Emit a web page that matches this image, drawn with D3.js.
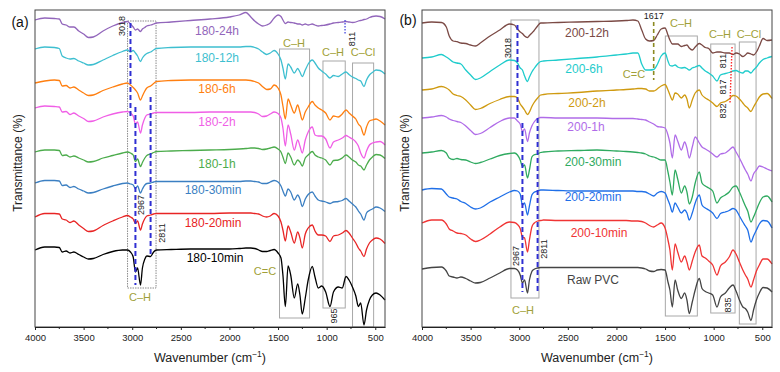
<!DOCTYPE html>
<html>
<head>
<meta charset="utf-8">
<script src="https://cdn.jsdelivr.net/npm/d3@7"></script>
<style>
body { margin: 0; background: #fff; }
svg { display: block; font-family: "Liberation Sans", Arial, sans-serif; }
</style>
</head>
<body>
<svg id="chart" width="780" height="372"></svg>
<script>
// shared wavenumber grid (cm-1)
const wavenumbers = [4000,3900,3800,3750,3720,3680,3640,3600,3550,3500,
  3450,3400,3300,3200,3100,3050,3018,2990,2967,2945,
  2915,2895,2870,2850,2811,2780,2750,2600,2400,2200,
  2000,1900,1830,1780,1740,1700,1660,1617,1580,1540,
  1500,1470,1450,1425,1397,1370,1333,1298,1275,1251,
  1220,1190,1148,1120,1086,1051,1010,966,930,880,
  840,801,770,735,700,674,650,616,590,560,
  530,492,451,400];
const tickValues = [4000,3500,3000,2500,2000,1500,1000,500];
const minorTicks = [3750,3250,2750,2250,1750,1250,750];

// panel (a): 180 °C series, transmittance relative to each trace start
const namesA = ['180-24h','180-12h','180-6h','180-2h','180-1h','180-30min','180-20min','180-10min'];
const colorsA = ['#9266bb','#3ebfd0','#ff7f10','#f05ee6','#4cac4c','#3b7fc2','#e82424','#000000'];
const offsetsA = [307,278,244,219,175,144,110,77];
const t180_24h = [0,2,1.5,1,-4,-5,-7,-7,-11,-14, -17.5,-17,-11,-6,-2.5,-1.5,-4,-7,-10,-9,
  -11.5,-9,-7.5,-6,-5,-4,-3,-2,-0.5,1, 3,5,7.5,3,-1,-4,-6,-5,-3,2,
  5,3.5,0,-3.5,-2,-2.5,-3,-4,-4,-5, -4,-5,-4,-5,-6,-5.5,-5,-4,-3,-2.5,
  -2,-1.5,-2,-2.5,-2,-1,-0.5,0.5,1,2.5, 3.5,4,3.5,1];
const t180_12h = [0,2,1.5,0.5,-7,-9,-10,-9.5,-12,-14, -16,-15.5,-11,-6.5,-2.5,-1,-3,-1.5,-4,-7,
  -12.5,-9,-6,-4.5,-3,-1,0.5,1.5,2,2, 2,2,2.5,2.5,1.5,0,-3,-5.5,-4,-1.5,
  -5,-11,-19,-30,-15,-18,-24,-19.5,-23,-27.5, -21,-15,-11,-14,-19,-22,-25,-29,-26.5,-27.5,
  -25,-23,-25.5,-28,-29.5,-31,-32,-37.5,-31,-26, -23.5,-21,-21.5,-25];
const t180_6h = [0,2,3,2.5,-3,-2.5,-5,-4,-7,-10, -12.5,-12,-7.5,-4,-1,0,-2,-4.5,-7,-10,
  -17,-13,-8,-5,-3,-0.5,1.5,2.5,3,3, 3,3,3,2.5,1.5,0,-3.5,-6.5,-6,-2,
  -5,-12,-23,-36,-16,-22,-30,-22,-29,-37, -29,-24,-18.5,-22,-25,-27,-30,-37,-33,-34,
  -31,-27,-30,-33,-36,-41,-43.5,-52,-44,-38, -37,-36,-38,-42];
const t180_2h = [0,2,1.5,1,-4,-3.5,-6.5,-5,-8,-10.5, -13.5,-13,-9,-6,-4,-3.5,-5,-8,-16,-14,
  -25,-17,-10,-7,-6,-5,-4.5,-4.5,-4.5,-4, -4,-4,-4,-4,-4.5,-6,-8.5,-8,-6,-4,
  -5.5,-10,-20,-38,-17,-26,-42,-32,-38,-45, -32,-24,-19,-27,-28,-28,-31,-40,-34,-32,
  -30,-27.5,-29,-31,-34,-38,-45,-50,-43,-37, -35,-34,-33.5,-37];
const t180_1h = [0,2,2,1.5,-3.5,-3,-5,-4,-6,-8, -10,-9.5,-6,-3.5,-1,0,-1,-3,-9.5,-7,
  -14.5,-10.5,-6,-3.5,-2,-0.5,0.5,1,1.5,2, 2.5,3,3.5,4,4,3.5,2.5,3,4,5,
  3,0,-5,-11.5,-1,-5,-13,-8,-10,-14, -6,-3,0.5,-3,-5,-6,-8,-13,-8.5,-8,
  -6,-3,-5,-8,-10,-13,-14,-18,-13,-8, -5,-2.5,-3,-6.5];
const t180_30min = [0,2.5,2.5,2,-2.5,-2,-4.5,-3.5,-6,-8, -10,-9.5,-6,-3,-0.5,0,-1,-2,-5.5,-3,
  -10,-6,-2,-0.5,0,1,1.5,1.5,1.5,1.5, 1.5,1.5,2,2,1.5,1,-0.5,-0.5,1,2.5,
  1,-3,-8,-13,-6,-9,-17,-12,-16,-23.5, -16,-11.5,-9,-13,-17,-18,-19,-20.5,-19,-18.5,
  -17.5,-15.5,-18,-21,-24,-28,-31,-37,-30,-27.5, -26,-24,-25,-28.5];
const t180_20min = [0,3.5,3.5,3,-2,-3,-5.5,-4,-8,-11.5, -14.5,-14,-8.5,-4,0,1.5,0,-2,-6.5,-4,
  -13,-7,-1.5,1,2,3,3.5,3.5,3.5,3.5, 4,4,4,4,3.5,3,1,0,1,3.5,
  1,-5,-13,-24,-9,-15,-26,-15,-21,-31, -17,-11,-8,-14,-18,-18,-19,-24.5,-19,-18,
  -16,-13.5,-16,-21,-26,-31,-34,-39.5,-32,-26, -23,-21,-22,-26.5];
const t180_10min = [0,3,3,2.5,-2,-1,-3,-2,-4.5,-7, -9,-8.5,-4.5,-1.5,0,0,-2,-7,-22,-18,
  -35,-18,-9,-6,-6.5,-2,0,0.5,1,1, 1,1.5,2,2,1.5,0,-1.5,-1.5,-0.5,0.5,
  -3,-8,-25,-56.5,-16,-25,-48,-34,-45,-64, -48,-30,-16.5,-27,-38,-36,-42,-56.5,-42,-37,
  -38,-26.5,-30,-37,-46,-56.5,-53,-75,-60,-50, -45,-43,-45,-50];

// panel (b): 200 °C series and raw PVC
const namesB = ['200-12h','200-6h','200-2h','200-1h','200-30min','200-20min','200-10min','Raw PVC'];
const colorsB = ['#7b4a45','#1fcccc','#cf9a10','#b06ce8','#2faa60','#1f6fe8','#f03434','#444444'];
const offsetsB = [304,269,237,209,174,137,104,58];
const t200_12h = [0,1,0.5,-4,-13,-18,-18.7,-20,-20.5,-22, -23,-20,-13,-7,-1,-2,-6,-9,-10.5,-13,
  -14.5,-12.5,-10,-8,-3,0,0,0.5,1,1.5, 2,2.5,3,2,-7,-16,-18,-17.5,-12,-6,
  -5,-12,-17,-21,-21,-21,-23.5,-22.5,-22,-25, -27,-24,-20.5,-22,-24.5,-25.5,-30,-29,-29,-30,
  -30,-31.5,-30,-31,-33.5,-32,-30,-31,-32,-29, -23,-15.5,-17.5,-17];
const t200_6h = [0,1,3.5,1,-1,-4,-5,-6,-12,-17, -21.5,-20,-13.5,-7,-2,-2.5,-5,-10,-12,-18,
  -23.5,-19,-14,-11,-6,-3.5,-3,-2,-0.5,1, 3,4,5,5,-6,-12,-12,-11.5,-6.5,2,
  5,-3,-7.5,-8,-7,-9,-10,-9.5,-10.5,-12, -10,-9,-7.5,-10,-13,-15,-18,-23,-17,-15.5,
  -14.5,-13,-12.5,-14,-15,-13,-13,-15,-12,-9, -5,-1.5,0,1.5];
const t200_2h = [0,1,3.5,2,0,-4,-5.5,-6.5,-10,-15, -19.5,-18.5,-13.5,-9.5,-6.5,-6.5,-8,-14,-17,-20,
  -24.5,-22,-16.5,-13,-8,-5,-4.5,-3.5,-2.5,-1, 0,0.5,1,1.5,1.5,1,-1,-1,1,4,
  5.5,0,-5,-10,-3,-4,-8,-5,-9,-18, -10,-3,0,-5,-8,-10,-13,-16.5,-13,-11.5,
  -9,-5.5,-6,-9,-13,-16,-18,-21.5,-17,-12, -7,-4,-3.5,-8.5];
const t200_1h = [0,1,2.5,1,-1,-2.5,-3.5,-4.5,-8,-12.5, -16.5,-15.5,-9.5,-3.5,0,0,-3,-6,-13.5,-11,
  -23.5,-15,-8,-4.5,-0.5,0.5,0.5,0,0,0, -0.5,-0.5,-0.5,-1,-1.5,-2,-4,-6,-8.5,-9,
  -10,-17,-25,-40,-17,-23,-32,-24,-30,-40, -29,-19,-25,-29,-31,-33,-36,-39,-36,-35,
  -32,-29,-34,-40,-47,-52,-56,-63,-56,-52, -48,-49,-51,-53];
const t200_30min = [0,1,2.5,0,-5,-6.5,-5.5,-6.5,-7,-9, -10.5,-9.5,-6,-2.5,-0.5,0,-2,-7,-13.5,-12,
  -25,-17,-4,-2,-1,0.5,1,2,2.5,3, 2,1.5,1,0.5,0,-1,-3,-4,-5.5,-7,
  -7,-19,-29,-42,-17,-26,-40,-33,-39,-51, -44,-30,-19,-30,-33,-35,-38,-50,-45,-42,
  -39,-34,-33,-39,-47,-53,-58,-69,-64,-57, -50,-44,-43,-49];
const t200_20min = [0,1.5,1,-4,-7,-8,-9,-11.5,-13.5,-17, -19,-18,-12,-7,-2,-0.5,-1,-4,-15,-13,
  -25,-16,-5,-2.5,-1,0,0,-0.5,-1,-1, -1,-1,-1,-1.5,-1.5,-2,-4,-6,-3,-1.5,
  -3,-10,-15,-22,-13,-17,-23,-20,-23,-30, -23,-13,-5,-15,-18,-20,-23,-28.5,-23.5,-22,
  -20.5,-18.5,-20,-26,-32,-36,-40,-52,-46,-40, -34,-30.5,-31,-38];
const t200_10min = [0,3,3,-1,-6,-8,-10,-10.5,-12,-16, -18.5,-17,-11,-4,1,0.5,-1.5,-5.5,-14,-15,
  -29,-17,-4,-0.5,2,2.5,3,2.5,2.5,2.5, 2.5,2.5,2,2,1.5,0,-2.5,-4,-2,0,
  -5,-17,-27,-47,-21,-29,-39,-33,-39,-47, -38,-29,-22,-33,-35,-38,-42,-52,-43,-39,
  -34,-27,-31,-39,-47,-52,-56,-64,-57,-48, -42,-36,-36,-41];
const tRawPVC = [0,1.5,2,-2,-7,-8,-9,-8,-9.5,-12, -14,-13.5,-9,-4,0.5,0.5,-1,-6,-14,-11,
  -24,-11,-2.5,-0.5,1,1.5,1.5,1.5,1.5,1.5, 1.5,1.5,1.5,1.5,1,0,-2,-2.5,-1,-0.5,
  -1,-13,-21,-38,-11,-21,-29.5,-24,-31,-44.5, -33,-21,-9.5,-19.5,-22.5,-24,-26,-38,-28,-24,
  -19,-16,-22,-31,-38,-39.5,-43,-51.5,-41,-31, -24,-18.5,-19,-23];

const plotTop = 10, plotBottom = 327;
const olive = '#a19f38';
const svg = d3.select('#chart');
const y = d3.scaleLinear().domain([0, 317]).range([plotBottom, plotTop]);

const panels = [
  {
    left: 35, tag: '(a)', tagX: 20, tagY: 22,
    names: namesA, colors: colorsA, offsets: offsetsA,
    values: [t180_24h, t180_12h, t180_6h, t180_2h, t180_1h, t180_30min, t180_20min, t180_10min],
    labels: [[217,31],[217,58],[217,89],[217,122],[217,164],[213,190],[213,223],[215,258]],
    boxes: [[3048,2755,21,288,'dot'],[1485,1176,49,318],[1038,809,61,308],[734,517,63,327]],
    dashes: [[3018,23,118],[2967,107,285],[2811,97,255]],
    words: [['C\u2013H',294,43],['C\u2013H',333,52],['C\u2013Cl',363,52],['C\u2013H',140,297],['C=C',265,271]],
    rot: [['3018',121.5,26],['2967',140.5,205],['2811',162,233],['811',352,39],['965',334,316]]
  },
  {
    left: 422, tag: '(b)', tagX: 408, tagY: 20,
    names: namesB, colors: colorsB, offsets: offsetsB,
    values: [t200_12h, t200_6h, t200_2h, t200_1h, t200_30min, t200_20min, t200_10min, tRawPVC],
    labels: [[587,33],[584,69],[587,103],[586,127],[593,162],[593,197],[599,233],[593,280]],
    boxes: [[3085,2797,20,298],[1497,1168,36,316],[1030,780,44,313],[736,564,42,324]],
    dashes: [[3018,25,120],[2967,123,292],[2811,118,292]],
    words: [['C\u2013H',681,23],['C\u2013H',720,34],['C\u2013Cl',749,34],['C\u2013H',523,310],['C=C',634,74]],
    rot: [['3018',508,48],['2967',516,256],['2811',544,249],['811',723,61],['817',723,87],['832',723,111],['835',728,305]]
  }
];

panels.forEach((p, pi) => {
  const x = d3.scaleLinear().domain([4000, 400]).range([p.left, p.left + 350]);
  const g = svg.append('g');

  // annotation boxes
  p.boxes.forEach(b => {
    g.append('rect')
      .attr('x', x(b[0])).attr('y', b[2])
      .attr('width', x(b[1]) - x(b[0])).attr('height', b[3] - b[2])
      .attr('fill', 'none')
      .attr('stroke', b[4] ? '#8a8a8a' : '#a8a8a8')
      .attr('stroke-width', 1)
      .attr('stroke-dasharray', b[4] ? '1.5,1' : null);
  });

  // spectra
  const line = d3.line()
    .x((d, i) => x(wavenumbers[i]))
    .y(d => y(d))
    .curve(d3.curveMonotoneX);
  p.values.forEach((vals, k) => {
    g.append('path')
      .datum(vals.map(v => v + p.offsets[k]))
      .attr('d', line)
      .attr('fill', 'none')
      .attr('stroke', p.colors[k])
      .attr('stroke-width', 1.3)
      .attr('stroke-linejoin', 'round');
    g.append('text')
      .attr('x', p.labels[k][0]).attr('y', p.labels[k][1])
      .attr('text-anchor', 'middle').attr('dominant-baseline', 'central')
      .attr('font-size', 12).attr('fill', p.colors[k])
      .text(p.names[k]);
  });

  // peak marker lines
  p.dashes.forEach(d => {
    g.append('line')
      .attr('x1', x(d[0])).attr('x2', x(d[0]))
      .attr('y1', d[1]).attr('y2', d[2])
      .attr('stroke', '#2f2fd2').attr('stroke-width', 2)
      .attr('stroke-dasharray', '5,3');
  });
  if (pi === 0) {
    g.append('line')
      .attr('x1', x(811)).attr('x2', x(811)).attr('y1', 20).attr('y2', 35)
      .attr('stroke', '#4646e0').attr('stroke-width', 1.3).attr('stroke-dasharray', '1.5,1.5');
  } else {
    g.append('line')
      .attr('x1', x(1617)).attr('x2', x(1617)).attr('y1', 22).attr('y2', 80)
      .attr('stroke', '#8c8a22').attr('stroke-width', 1.6).attr('stroke-dasharray', '4,3');
    g.append('text')
      .attr('x', x(1617)).attr('y', 16)
      .attr('text-anchor', 'middle').attr('dominant-baseline', 'central')
      .attr('font-size', 9).attr('fill', '#222').text('1617');
    g.append('line')
      .attr('x1', x(811)).attr('x2', x(832)).attr('y1', 47).attr('y2', 103)
      .attr('stroke', '#ff2a2a').attr('stroke-width', 1.4).attr('stroke-dasharray', '1.5,1.5');
  }

  // band labels
  p.words.forEach(w => {
    g.append('text')
      .attr('x', w[1]).attr('y', w[2])
      .attr('text-anchor', 'middle').attr('dominant-baseline', 'central')
      .attr('font-size', 11).attr('fill', olive)
      .text(w[0]);
  });
  p.rot.forEach(r => {
    g.append('text')
      .attr('transform', `translate(${r[1]},${r[2]}) rotate(-90)`)
      .attr('text-anchor', 'middle').attr('dominant-baseline', 'central')
      .attr('font-size', 9).attr('fill', '#222')
      .text(r[0]);
  });

  // frame
  g.append('rect')
    .attr('x', p.left).attr('y', plotTop)
    .attr('width', 350).attr('height', plotBottom - plotTop)
    .attr('fill', 'none').attr('stroke', '#444').attr('stroke-width', 1);

  // bottom axis
  const ax = g.append('g')
    .attr('transform', `translate(0,${plotBottom})`)
    .call(d3.axisBottom(x).tickValues(tickValues).tickFormat(d3.format('d'))
      .tickSize(3).tickSizeOuter(0).tickPadding(4));
  ax.select('.domain').attr('stroke', '#222');
  ax.selectAll('.tick line').attr('stroke', '#222');
  ax.selectAll('.tick text').attr('font-size', 9.5).attr('fill', '#222')
    .attr('font-family', '"Liberation Sans", Arial, sans-serif');
  g.append('g')
    .attr('transform', `translate(0,${plotBottom})`)
    .selectAll('line').data(minorTicks).enter().append('line')
    .attr('x1', d => x(d)).attr('x2', d => x(d))
    .attr('y1', 0).attr('y2', 2)
    .attr('stroke', '#222');

  const xt = g.append('text')
    .attr('x', p.left + 175).attr('y', 362)
    .attr('text-anchor', 'middle').attr('font-size', 12.5).attr('fill', '#222');
  xt.append('tspan').text('Wavenumber (cm');
  xt.append('tspan').attr('font-size', 8.5).attr('dy', -5).text('\u22121');
  xt.append('tspan').attr('dy', 5).text(')');

  g.append('text')
    .attr('transform', `translate(${p.left - 17},163) rotate(-90)`)
    .attr('text-anchor', 'middle').attr('dominant-baseline', 'central')
    .attr('font-size', 12).attr('fill', '#222')
    .text('Transmittance (%)');

  g.append('text')
    .attr('x', p.tagX).attr('y', p.tagY)
    .attr('text-anchor', 'middle').attr('dominant-baseline', 'central')
    .attr('font-size', 14).attr('fill', '#111')
    .text(p.tag);
});
</script>
</body>
</html>
